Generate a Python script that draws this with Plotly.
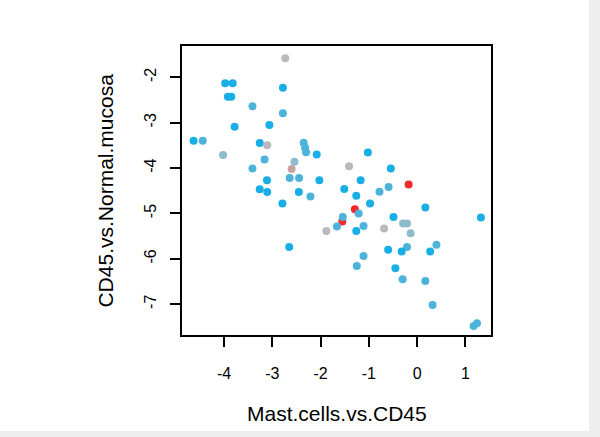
import plotly.graph_objects as go

# Per-sample coordinates: Mast cells vs CD45 (x) against CD45 vs normal mucosa (y)
x_vals = [
    -2.73, -3.975, -3.82, -2.78, -3.92, -3.85, -3.41, -2.78, -3.78, -3.06,
    -4.63, -4.44, -3.26, -3.105, -2.35, -2.32, -2.30, -2.08, -4.02, -3.16,
    -2.54, -2.60, -3.41, -3.11, -2.64, -2.445, -2.025, -3.26, -3.105, -2.45,
    -2.21, -2.79, -2.65, -1.88, -1.55, -1.66, -1.54, -1.29, -1.21, -1.26,
    -1.11, -1.41, -1.02, -0.545, -1.17, -0.176, -1.51, -1.26, -0.78, -0.59,
    -0.975, -0.49, -0.685, -0.29, -0.21, -0.135, -0.21, -0.32, -0.60, -1.11,
    -1.25, -0.45, -0.30, 0.17, 0.17, 0.27, 0.40, 0.32, 1.32, 1.17, 1.24,
]
y_vals = [
    -1.58, -2.13, -2.13, -2.23, -2.43, -2.43, -2.64, -2.79, -3.09, -3.05,
    -3.40, -3.40, -3.45, -3.50, -3.44, -3.55, -3.65, -3.70, -3.71, -3.81,
    -3.86, -4.02, -4.01, -4.27, -4.22, -4.22, -4.27, -4.47, -4.53, -4.53,
    -4.63, -4.78, -5.74, -5.39, -5.18, -5.29, -5.08, -4.91, -5.00, -5.39,
    -5.28, -3.96, -3.66, -4.01, -4.27, -4.36, -4.46, -4.61, -4.52, -4.42,
    -4.78, -5.08, -5.33, -5.22, -5.22, -5.44, -5.74, -5.84, -5.80, -5.94,
    -6.16, -6.21, -6.45, -4.87, -6.49, -5.84, -5.69, -7.02, -5.09, -7.48, -7.42,
]
groups = [
    "G", "B", "B", "B", "B", "B", "L", "L", "B", "B",
    "B", "L", "B", "G", "L", "L", "L", "B", "GB", "L",
    "GB", "P", "L", "B", "L", "L", "B", "B", "B", "B",
    "L", "B", "B", "G", "R", "L", "L", "R", "L", "B",
    "L", "G", "B", "B", "B", "R", "B", "B", "L", "L",
    "B", "B", "G", "GB", "GB", "GB", "L", "B", "B", "L",
    "L", "B", "L", "B", "L", "B", "L", "L", "B", "L", "L",
]

palette = {
    "B": "#1aaee6",
    "L": "#4db3da",
    "GB": "#8fbccc",
    "G": "#bababe",
    "R": "#f42a2a",
    "P": "#c9a2a2",
}

x_ticks = [-4, -3, -2, -1, 0, 1]
y_ticks = [-7, -6, -5, -4, -3, -2]
x_tick_labels = ["-4", "-3", "-2", "-1", "0", "1"]
y_tick_labels = ["-7", "-6", "-5", "-4", "-3", "-2"]

fig = go.Figure(
    go.Scatter(
        x=x_vals,
        y=y_vals,
        mode="markers",
        marker=dict(size=8, color=[palette[g] for g in groups], line=dict(width=0)),
        hoverinfo="skip",
    )
)

font_family = "Liberation Sans, Arial, sans-serif"
axis_common = dict(
    showgrid=False,
    zeroline=False,
    showline=True,
    mirror=True,
    linecolor="black",
    linewidth=1.5,
    ticks="outside",
    ticklen=10,
    tickwidth=1.5,
    tickcolor="black",
    tickfont=dict(family=font_family, size=16, color="black"),
)

# thin light-grey frame along the right and bottom edges of the page
edge = "#eeeeee"
frame = [
    dict(type="rect", xref="paper", yref="paper", layer="below",
         x0=(589 - 182) / 309, x1=(600 - 182) / 309, y0=(335 - 437) / 289, y1=(335 - 0) / 289,
         fillcolor=edge, line=dict(width=0)),
    dict(type="rect", xref="paper", yref="paper", layer="below",
         x0=(0 - 182) / 309, x1=(600 - 182) / 309, y0=(335 - 437) / 289, y1=(335 - 431) / 289,
         fillcolor=edge, line=dict(width=0)),
]

fig.update_layout(
    width=600,
    height=437,
    margin=dict(l=182, r=109, t=46, b=102),
    paper_bgcolor="white",
    plot_bgcolor="white",
    showlegend=False,
    shapes=frame,
    xaxis=dict(range=[-4.87, 1.53], tickvals=x_ticks, ticktext=x_tick_labels,
               ticklabelstandoff=13, **axis_common),
    yaxis=dict(range=[-7.68, -1.31], tickvals=y_ticks, ticktext=y_tick_labels,
               tickangle=-90, ticklabelstandoff=8, **axis_common),
    annotations=[
        dict(
            text="Mast.cells.vs.CD45",
            xref="paper", yref="paper", x=0.5, y=-0.27,
            xanchor="center", yanchor="middle", showarrow=False,
            font=dict(family=font_family, size=21, color="black"),
        ),
        dict(
            text="CD45.vs.Normal.mucosa",
            xref="paper", yref="paper", x=-0.249, y=0.5,
            xanchor="center", yanchor="middle", showarrow=False, textangle=-90,
            font=dict(family=font_family, size=21, color="black"),
        ),
    ],
)

fig.write_html("out.html")
